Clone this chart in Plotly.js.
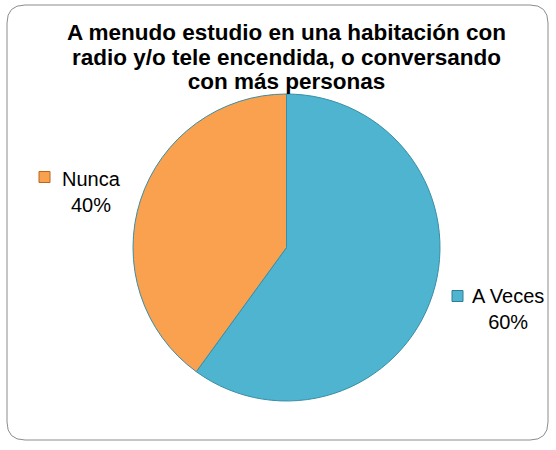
<!DOCTYPE html>
<html><head><meta charset="utf-8">
<script src="https://cdn.plot.ly/plotly-3.0.1.min.js"></script>
<style>html,body{margin:0;padding:0;background:#fff;}#chart{width:556px;height:450px;}</style>
</head><body><div id="chart"></div>
<script>
var titleLines = ["A menudo estudio en una habitación con", "radio y/o tele encendida, o conversando", "con más personas"];
var categories = ["A Veces", "Nunca"];
var values = [60, 40];
var colors = ["#4EB4CF", "#F9A14F"];
var keyLine = ["#2C7F96", "#B8651E"];

var total = values.reduce(function(a,b){return a+b;},0);
function pct(v){ return Math.round(v/total*100) + "%"; }

var trace = {
  type: "pie",
  labels: categories,
  values: values,
  sort: false,
  direction: "clockwise",
  rotation: 0,
  textinfo: "none",
  hoverinfo: "label+percent",
  marker: {colors: colors, line: {color: "#3a8ea6", width: 1}},
  domain: {x: [133/556, 440/556], y: [1-405/450, 1-90/450]},
  showlegend: false
};

var W = 556, H = 450;
function px(x){ return x/W; } function py(y){ return 1 - y/H; }
var L = 7, R = 548, T = 5, B = 440, r = 18;
var path = "M " + px(L+r) + "," + py(T) +
  " L " + px(R-r) + "," + py(T) +
  " Q " + px(R) + "," + py(T) + " " + px(R) + "," + py(T+r) +
  " L " + px(R) + "," + py(B-r) +
  " Q " + px(R) + "," + py(B) + " " + px(R-r) + "," + py(B) +
  " L " + px(L+r) + "," + py(B) +
  " Q " + px(L) + "," + py(B) + " " + px(L) + "," + py(B-r) +
  " L " + px(L) + "," + py(T+r) +
  " Q " + px(L) + "," + py(T) + " " + px(L+r) + "," + py(T) + " Z";

var labelPos = [{x: 508, y: 309}, {x: 91, y: 192}];
var keyPos = [{x: 457.5, y: 296}, {x: 44.5, y: 177}];
var k = 5.5;

var annotations = categories.map(function(c, i){
  return {
    xref: "paper", yref: "paper",
    x: px(labelPos[i].x), y: py(labelPos[i].y),
    xanchor: "center", yanchor: "middle",
    showarrow: false, align: "center",
    text: c + '<br>' + pct(values[i]),
    font: {family: "Arial, Liberation Sans, sans-serif", size: 20, color: "#000"}
  };
});

var shapes = [{type: "path", xref: "paper", yref: "paper", path: path,
    line: {color: "#8c8c8c", width: 1}, fillcolor: "rgba(0,0,0,0)", layer: "below"}];
categories.forEach(function(c, i){
  shapes.push({type: "rect", xref: "paper", yref: "paper",
    x0: px(keyPos[i].x - k), x1: px(keyPos[i].x + k),
    y0: py(keyPos[i].y + k), y1: py(keyPos[i].y - k),
    fillcolor: colors[i], line: {color: keyLine[i], width: 1}});
});

var titleText = titleLines.map(function(s){
  return '<span style="font-size:22.5px"><b>' + s + '</b></span>';
}).join("<br>");

var layout = {
  width: W, height: H,
  margin: {l: 0, r: 0, t: 0, b: 0},
  paper_bgcolor: "#fff",
  title: {
    text: titleText,
    x: 286.5/556, xanchor: "center", y: py(40), yanchor: "top",
    font: {family: "Arial, Liberation Sans, sans-serif", size: 19, color: "#000"}
  },
  shapes: shapes,
  annotations: annotations
};

Plotly.newPlot("chart", [trace], layout, {staticPlot: true, displayModeBar: false});
</script></body></html>
